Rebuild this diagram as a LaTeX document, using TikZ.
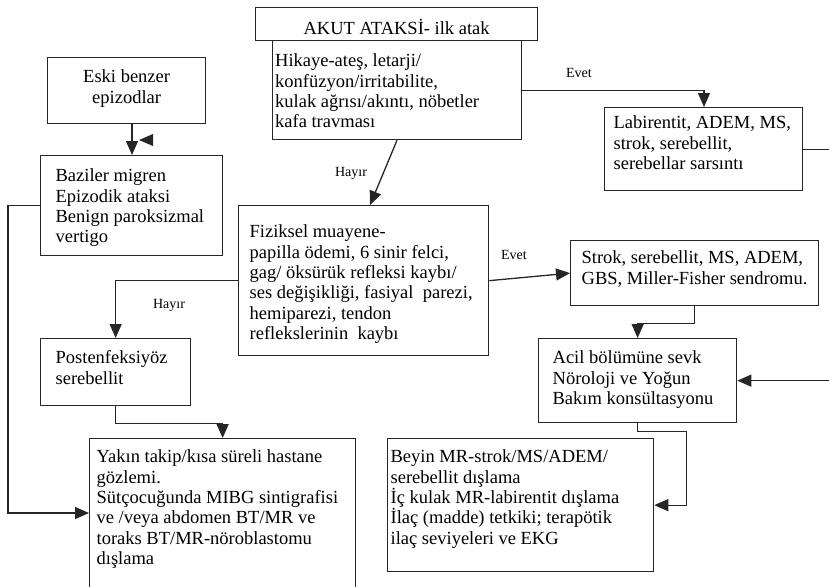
\documentclass[tikz,border=0pt]{standalone}
\usepackage{fontspec}
\setmainfont{Liberation Serif}
\usetikzlibrary{arrows.meta,calc}

% #1 width, #2 height, #3 left padding, #4 first baseline below top, #5 text
\newcommand{\boxbody}[5]{%
  \parbox[c][#2][t]{#1}{\vspace*{\dimexpr#4-\ht\strutbox\relax}%
    \raggedright\leftskip=#3\relax\strut#5}}

\tikzset{
  box/.style={draw=black!85, line width=1.3pt, inner sep=0pt, anchor=north west,
    font=\fontsize{18.5}{20.4}\selectfont},
  arr/.style={draw=black!85, line width=1.3pt, -{Triangle[length=14pt,width=12pt]}},
  lbl/.style={font=\fontsize{14}{16}\selectfont, inner sep=0pt}
}

\begin{document}
\begin{tikzpicture}[x=1pt, y=-1pt]
\path[use as bounding box] (0,0) rectangle (829,586);
\clip (0,0) rectangle (829,586);

% boxes
\node[box] (title) at (255,7)
  {\boxbody{282pt}{33pt}{0pt}{26pt}{\centering AKUT ATAKSİ- ilk atak}};
\node[box] (hik) at (272,40)
  {\boxbody{249pt}{99pt}{2.5pt}{26pt}{Hikaye-ateş, letarji/\\konfüzyon/irritabilite,\\kulak ağrısı/akıntı, nöbetler\\kafa travması}};
\node[box] (eski) at (47,57)
  {\boxbody{158pt}{66pt}{0pt}{25pt}{\centering Eski benzer\\epizodlar}};
\node[box] (baz) at (40,155)
  {\boxbody{182pt}{100pt}{15pt}{26pt}{Baziler migren\\Epizodik ataksi\\Benign paroksizmal\\vertigo}};
\node[box] (fiz) at (238,205)
  {\boxbody{250pt}{150pt}{11pt}{32pt}{Fiziksel muayene-\\papilla ödemi, 6 sinir felci,\\gag/ öksürük refleksi kaybı/\\ses değişikliği, fasiyal\ \ parezi,\\hemiparezi, tendon\\reflekslerinin\ \ kaybı}};
\node[box] (lab) at (604,107)
  {\boxbody{198pt}{83pt}{9pt}{21pt}{Labirentit, ADEM, MS,\\strok, serebellit,\\serebellar sarsıntı}};
\node[box] (strok) at (570,240)
  {\boxbody{248pt}{65pt}{11pt}{23pt}{Strok, serebellit, MS, ADEM,\\GBS, Miller-Fisher sendromu.}};
\node[box] (acil) at (538,338)
  {\boxbody{198pt}{84pt}{14pt}{25pt}{Acil bölümüne sevk\\Nöroloji ve Yoğun\\Bakım konsültasyonu}};
\node[box] (post) at (40,338)
  {\boxbody{150pt}{67pt}{15pt}{25pt}{Postenfeksiyöz\\serebellit}};
\node[box] (yakin) at (89,438)
  {\boxbody{266pt}{170pt}{7pt}{24pt}{Yakın takip/kısa süreli hastane\\gözlemi.\\Sütçocuğunda MIBG sintigrafisi\\ve /veya abdomen BT/MR ve\\toraks BT/MR-nöroblastomu\\dışlama}};
\node[box] (beyin) at (387,438)
  {\boxbody{266pt}{133pt}{3pt}{24pt}{Beyin MR-strok/MS/ADEM/\\serebellit dışlama\\İç kulak MR-labirentit dışlama\\İlaç (madde) tetkiki; terapötik\\ilaç seviyeleri ve EKG}};

% labels
\node[lbl] (hay1) at (351,173) {Hayır};
\node[lbl] (evet1) at (579,73) {Evet};
\node[lbl] (evet2) at (514,255) {Evet};
\node[lbl] (hay2) at (169,305) {Hayır};

% bend points
\coordinate (lbend) at (8,513);
\coordinate (redge) at (845,148);

% connectors
\draw[arr] ([xshift=85pt]eski.south west) -- ([xshift=92pt]baz.north west);
\fill[black!85] (139,140) -- (153,134) -- (153,146) -- cycle;
\draw[arr] (baz.west) -| (lbend) -- (lbend -| yakin.west);
\draw[arr] ([xshift=125pt]hik.south west) -- ([xshift=132pt]fiz.north west);
\draw[arr] (hik.east) -| ([xshift=100pt]lab.north west);
\draw[arr] (lab.east) -- (lab.east -| redge) |- (acil.east);
\draw[arr] (fiz.east) -- (strok.west);
\draw[arr] (fiz.west) -| (post.north);
\draw[arr] (strok.south) -- ++(0,17) -| (acil.north);
\draw[arr] (acil.south) -- ++(0,8) -- ++(49,0) |- (beyin.east);
\draw[arr] (post.south) -- ++(0,17) -| (yakin.north);
\end{tikzpicture}
\end{document}
